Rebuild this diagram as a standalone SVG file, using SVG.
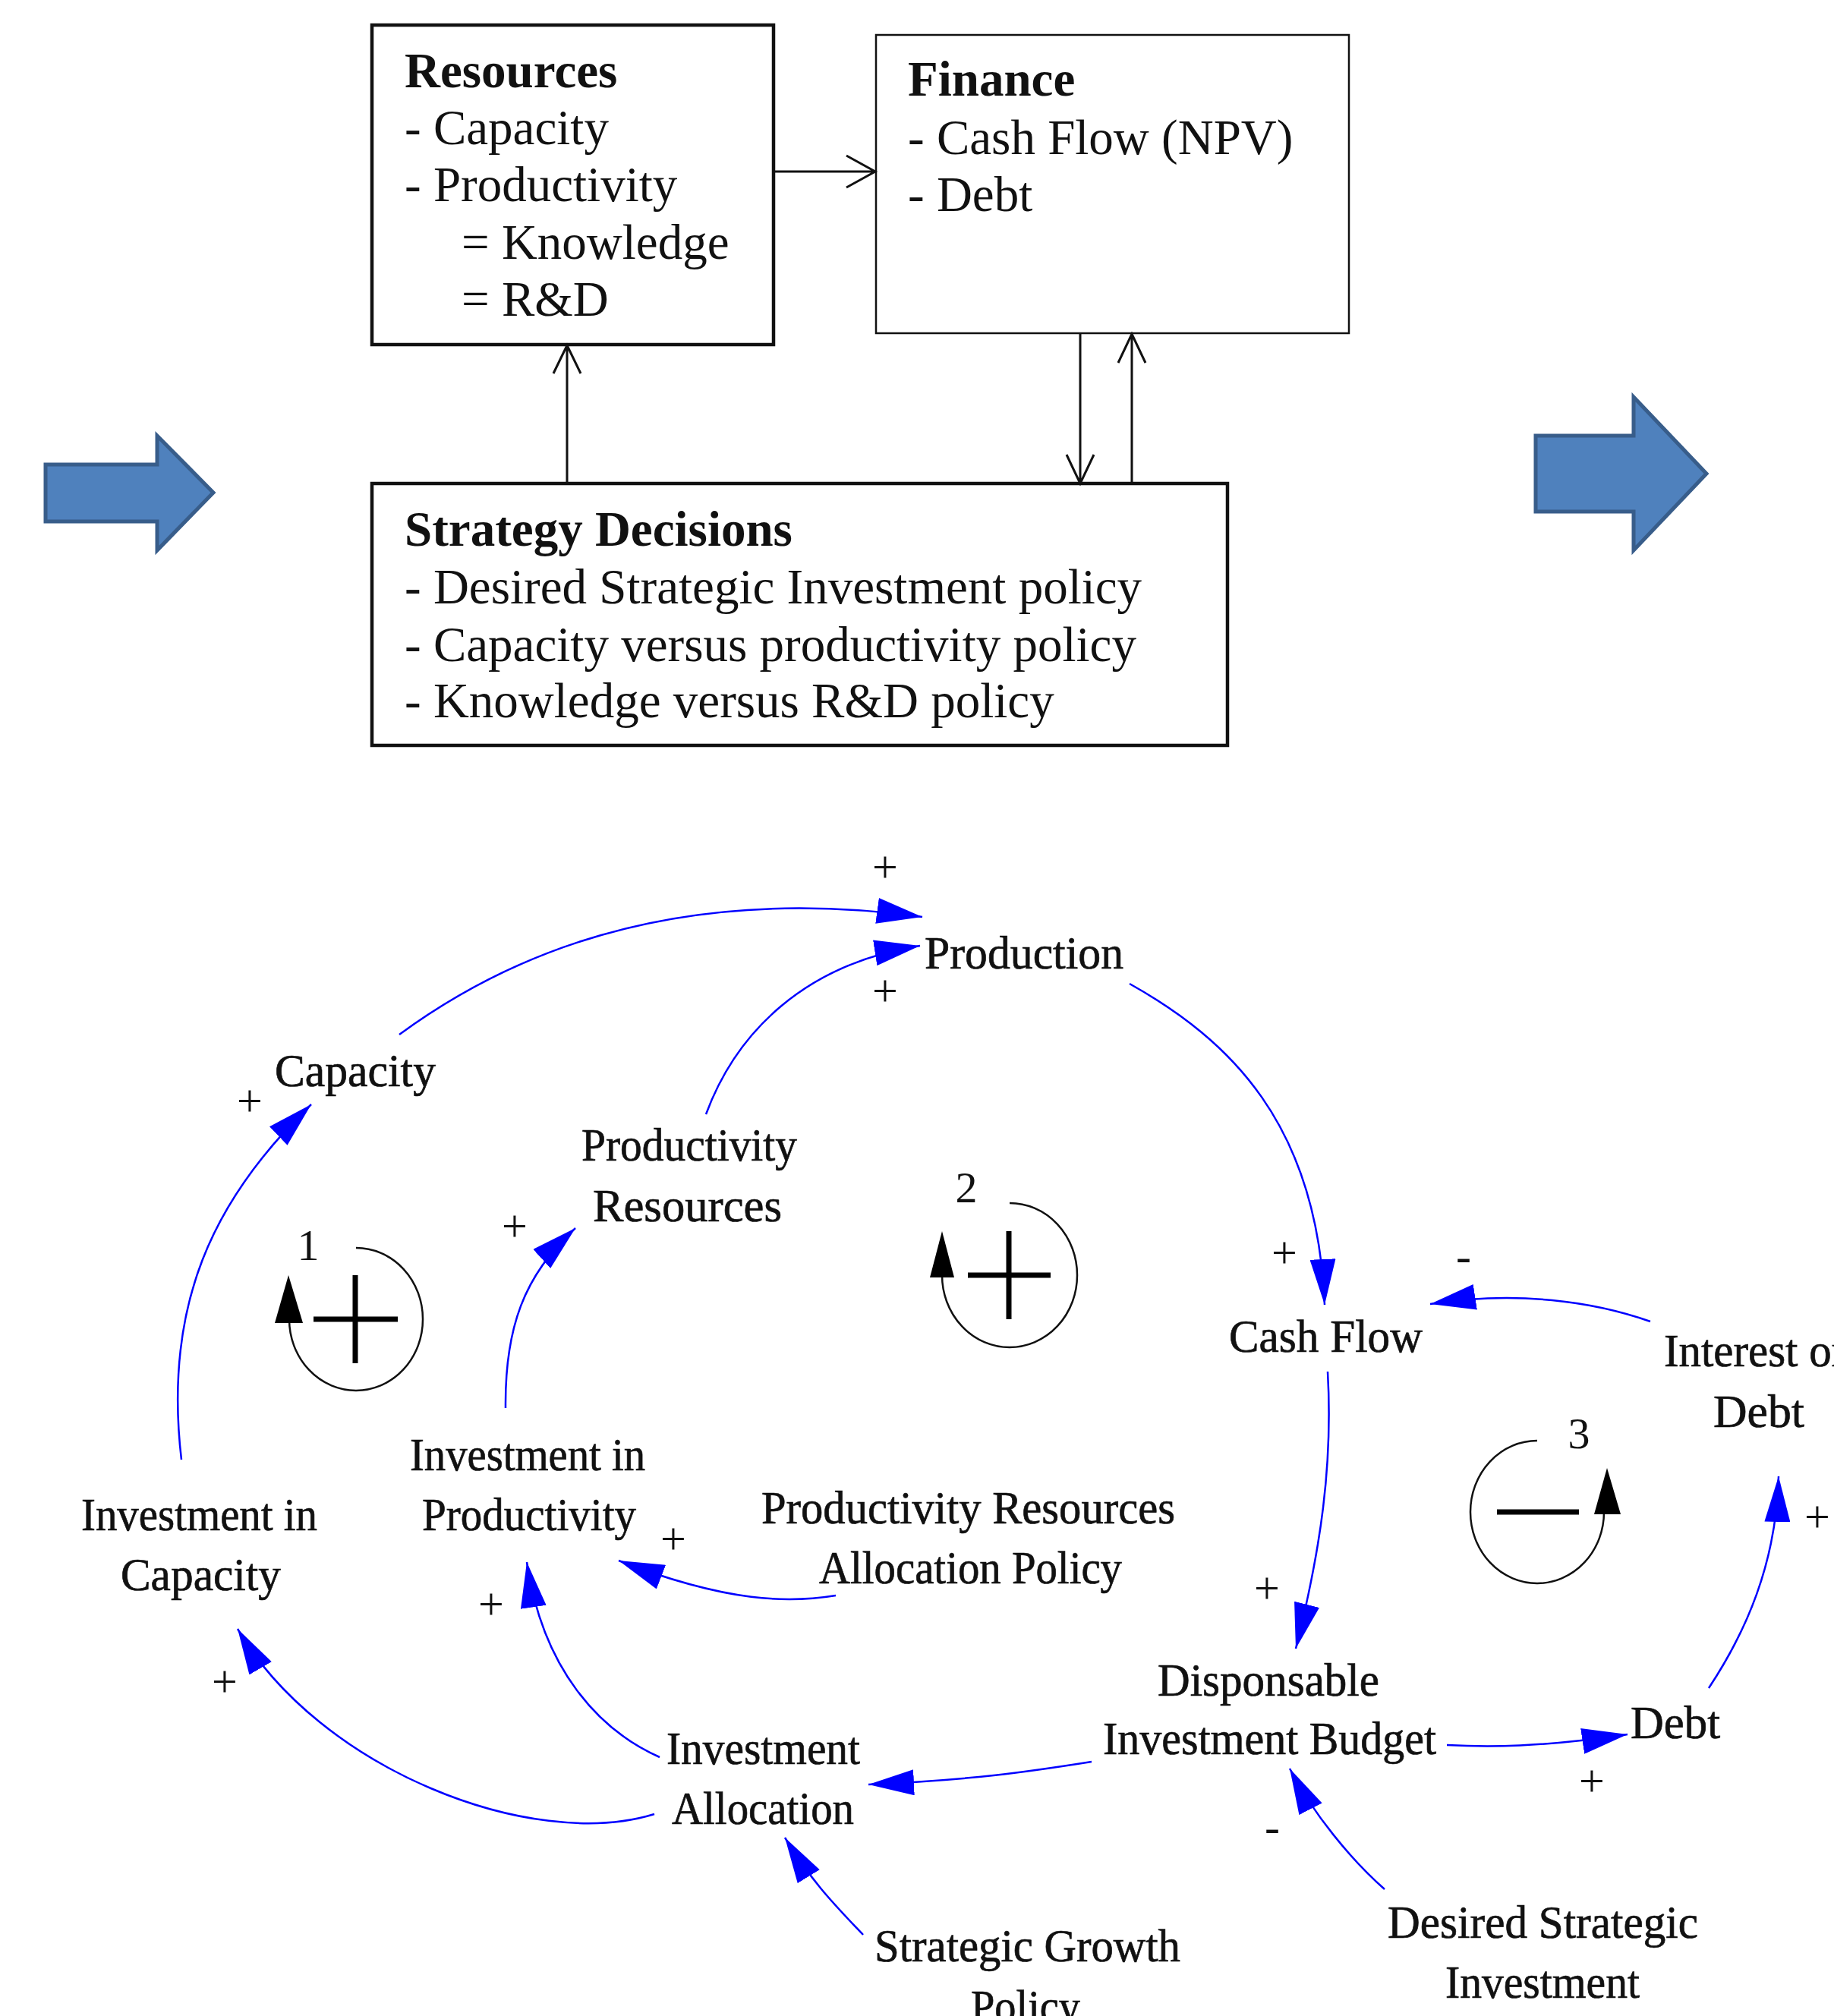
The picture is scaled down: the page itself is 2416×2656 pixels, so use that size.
<svg xmlns="http://www.w3.org/2000/svg" width="2416" height="2656" viewBox="0 0 2416 2656">
<style>
.t{font-family:"Liberation Serif","Times New Roman",serif;font-size:65px;fill:#111}
.b{font-weight:bold}
.n{font-family:"Liberation Serif","Times New Roman",serif;font-size:61px;fill:#111;stroke:#111;stroke-width:0.7}
.p{font-family:"Liberation Serif","Times New Roman",serif;font-size:60px;fill:#111;text-anchor:middle}
.ln{font-family:"Liberation Serif","Times New Roman",serif;font-size:58px;fill:#111;text-anchor:middle}
.box{fill:#fff;stroke:#111}
.open{fill:none;stroke:#111;stroke-width:3}
.lk{fill:none;stroke:#0000ff;stroke-width:2.5;marker-end:url(#ah)}
.loop{fill:none;stroke:#111;stroke-width:2.5}
.sym{stroke:#000;stroke-width:7}
.blk{fill:#4f81bd;stroke:#385d8a;stroke-width:5}
</style>
<defs>
<marker id="ah" markerUnits="userSpaceOnUse" markerWidth="60" markerHeight="34" refX="60" refY="17" orient="auto" viewBox="0 0 60 34">
<path d="M0,0 L60,17 L0,34 Z" fill="#0000ff"/>
</marker>
</defs>
<rect width="2416" height="2656" fill="#fff"/>

<!-- Block arrows -->
<g id="block-arrow-left">
<polygon class="blk" points="60,612 207,612 207,574 281,649 207,725 207,687 60,687"/>
</g>
<g id="block-arrow-right">
<polygon class="blk" points="2023,574 2152,574 2152,523 2248,624 2152,725 2152,674 2023,674"/>
</g>

<!-- Top boxes -->
<g id="resources">
<rect class="box" x="490" y="33" width="529" height="421" stroke-width="4.5"/>
<text class="t b" x="533" y="115">Resources</text>
<text class="t" x="533" y="190">- Capacity</text>
<text class="t" x="533" y="265">- Productivity</text>
<text class="t" x="608" y="341">= Knowledge</text>
<text class="t" x="608" y="416">= R&amp;D</text>
</g>
<g id="finance">
<rect class="box" x="1154" y="46" width="623" height="393" stroke-width="2.5"/>
<text class="t b" x="1196" y="126">Finance</text>
<text class="t" x="1196" y="203">- Cash Flow (NPV)</text>
<text class="t" x="1196" y="278">- Debt</text>
</g>
<g id="strategy-decisions">
<rect class="box" x="490" y="637" width="1127" height="345" stroke-width="4.5"/>
<text class="t b" x="533" y="719">Strategy Decisions</text>
<text class="t" x="533" y="795">- Desired Strategic Investment policy</text>
<text class="t" x="533" y="871">- Capacity versus productivity policy</text>
<text class="t" x="533" y="945">- Knowledge versus R&amp;D policy</text>
</g>

<g id="top-connectors">
<path class="open" d="M1020,226 H1152 M1115,205 L1153,226 L1115,247"/>
<path class="open" d="M747,637 V456 M729,492 L747,455 L765,492"/>
<path class="open" d="M1423,439 V636 M1405,599 L1423,637 L1441,599"/>
<path class="open" d="M1491,637 V441 M1473,478 L1491,440 L1509,478"/>
</g>

<!-- CLD connectors -->
<g id="cld-connectors">
<path class="lk" d="M526,1363 C680,1250 900,1165 1215,1208"/>
<path class="lk" d="M930,1468 C970,1360 1060,1270 1212,1246"/>
<path class="lk" d="M1488,1296 C1620,1370 1735,1480 1745,1719"/>
<path class="lk" d="M2174,1741 C2100,1715 2000,1700 1884,1718"/>
<path class="lk" d="M1749,1807 C1756,1930 1740,2040 1707,2172"/>
<path class="lk" d="M1906,2299 C1960,2302 2030,2302 2144,2285"/>
<path class="lk" d="M2251,2224 C2300,2150 2340,2060 2343,1945"/>
<path class="lk" d="M1438,2321 C1350,2335 1280,2345 1144,2351"/>
<path class="lk" d="M1137,2549 C1100,2510 1070,2480 1034,2421"/>
<path class="lk" d="M1824,2489 C1780,2450 1730,2390 1699,2330"/>
<path class="lk" d="M869,2315 C790,2280 715,2200 694,2058"/>
<path class="lk" d="M862,2390 C700,2440 420,2330 313,2146"/>
<path class="lk" d="M1101,2102 C1040,2112 960,2112 815,2056"/>
<path class="lk" d="M239,1923 C215,1720 280,1580 410,1455"/>
<path class="lk" d="M666,1855 C665,1750 690,1680 758,1618"/>
</g>

<!-- Polarity labels -->
<g id="polarities">
<text class="p" x="1166" y="1162">+</text>
<text class="p" x="1166" y="1325">+</text>
<text class="p" x="329" y="1470">+</text>
<text class="p" x="678" y="1635">+</text>
<text class="p" x="1692" y="1670">+</text>
<text class="p" x="1928" y="1675">-</text>
<text class="p" x="1669" y="2112">+</text>
<text class="p" x="2097" y="2366">+</text>
<text class="p" x="2394" y="2018">+</text>
<text class="p" x="1676" y="2427">-</text>
<text class="p" x="887" y="2047">+</text>
<text class="p" x="647" y="2133">+</text>
<text class="p" x="296" y="2235">+</text>
</g>

<!-- Loops -->
<g id="loop-1">
<path class="loop" d="M469,1644 A88,94 0 1 1 381,1738"/>
<polygon points="380,1680 362,1743 399,1743" fill="#000"/>
<path class="sym" d="M413,1738 H524 M468,1680 V1796"/>
<text class="ln" x="406" y="1660">1</text>
</g>
<g id="loop-2">
<path class="loop" d="M1330,1585 A89,95 0 1 1 1241,1680"/>
<polygon points="1241,1622 1225,1683 1257,1683" fill="#000"/>
<path class="sym" d="M1275,1680 H1384 M1329,1622 V1738"/>
<text class="ln" x="1273" y="1584">2</text>
</g>
<g id="loop-3">
<path class="loop" d="M2025,1898 A88,94 0 1 0 2113,1992"/>
<polygon points="2117,1934 2100,1995 2135,1995" fill="#000"/>
<path class="sym" d="M1972,1992 H2080"/>
<text class="ln" x="2080" y="1908">3</text>
</g>

<!-- CLD nodes -->
<g id="production"><text class="n" x="1218" y="1276" textLength="262" lengthAdjust="spacingAndGlyphs">Production</text></g>
<g id="capacity"><text class="n" x="362" y="1431" textLength="212" lengthAdjust="spacingAndGlyphs">Capacity</text></g>
<g id="productivity-resources">
<text class="n" x="766" y="1529" textLength="284" lengthAdjust="spacingAndGlyphs">Productivity</text>
<text class="n" x="781" y="1609" textLength="249" lengthAdjust="spacingAndGlyphs">Resources</text>
</g>
<g id="cash-flow"><text class="n" x="1619" y="1781" textLength="255" lengthAdjust="spacingAndGlyphs">Cash Flow</text></g>
<g id="interest-on-debt">
<text class="n" x="2192" y="1800" textLength="250" lengthAdjust="spacingAndGlyphs">Interest on</text>
<text class="n" x="2257" y="1880" textLength="120" lengthAdjust="spacingAndGlyphs">Debt</text>
</g>
<g id="debt"><text class="n" x="2148" y="2290" textLength="118" lengthAdjust="spacingAndGlyphs">Debt</text></g>
<g id="disponsable-investment-budget">
<text class="n" x="1525" y="2234" textLength="292" lengthAdjust="spacingAndGlyphs">Disponsable</text>
<text class="n" x="1453" y="2311" textLength="439" lengthAdjust="spacingAndGlyphs">Investment Budget</text>
</g>
<g id="desired-strategic-investment">
<text class="n" x="1828" y="2553" textLength="409" lengthAdjust="spacingAndGlyphs">Desired Strategic</text>
<text class="n" x="1904" y="2632" textLength="256" lengthAdjust="spacingAndGlyphs">Investment</text>
</g>
<g id="strategic-growth-policy">
<text class="n" x="1152" y="2584" textLength="403" lengthAdjust="spacingAndGlyphs">Strategic Growth</text>
<text class="n" x="1279" y="2664" textLength="144" lengthAdjust="spacingAndGlyphs">Policy</text>
</g>
<g id="investment-allocation">
<text class="n" x="878" y="2324" textLength="255" lengthAdjust="spacingAndGlyphs">Investment</text>
<text class="n" x="885" y="2403" textLength="240" lengthAdjust="spacingAndGlyphs">Allocation</text>
</g>
<g id="productivity-resources-allocation-policy">
<text class="n" x="1003" y="2007" textLength="545" lengthAdjust="spacingAndGlyphs">Productivity Resources</text>
<text class="n" x="1079" y="2086" textLength="399" lengthAdjust="spacingAndGlyphs">Allocation Policy</text>
</g>
<g id="investment-in-productivity">
<text class="n" x="540" y="1937" textLength="310" lengthAdjust="spacingAndGlyphs">Investment in</text>
<text class="n" x="556" y="2016" textLength="282" lengthAdjust="spacingAndGlyphs">Productivity</text>
</g>
<g id="investment-in-capacity">
<text class="n" x="107" y="2016" textLength="311" lengthAdjust="spacingAndGlyphs">Investment in</text>
<text class="n" x="159" y="2095" textLength="211" lengthAdjust="spacingAndGlyphs">Capacity</text>
</g>
</svg>
